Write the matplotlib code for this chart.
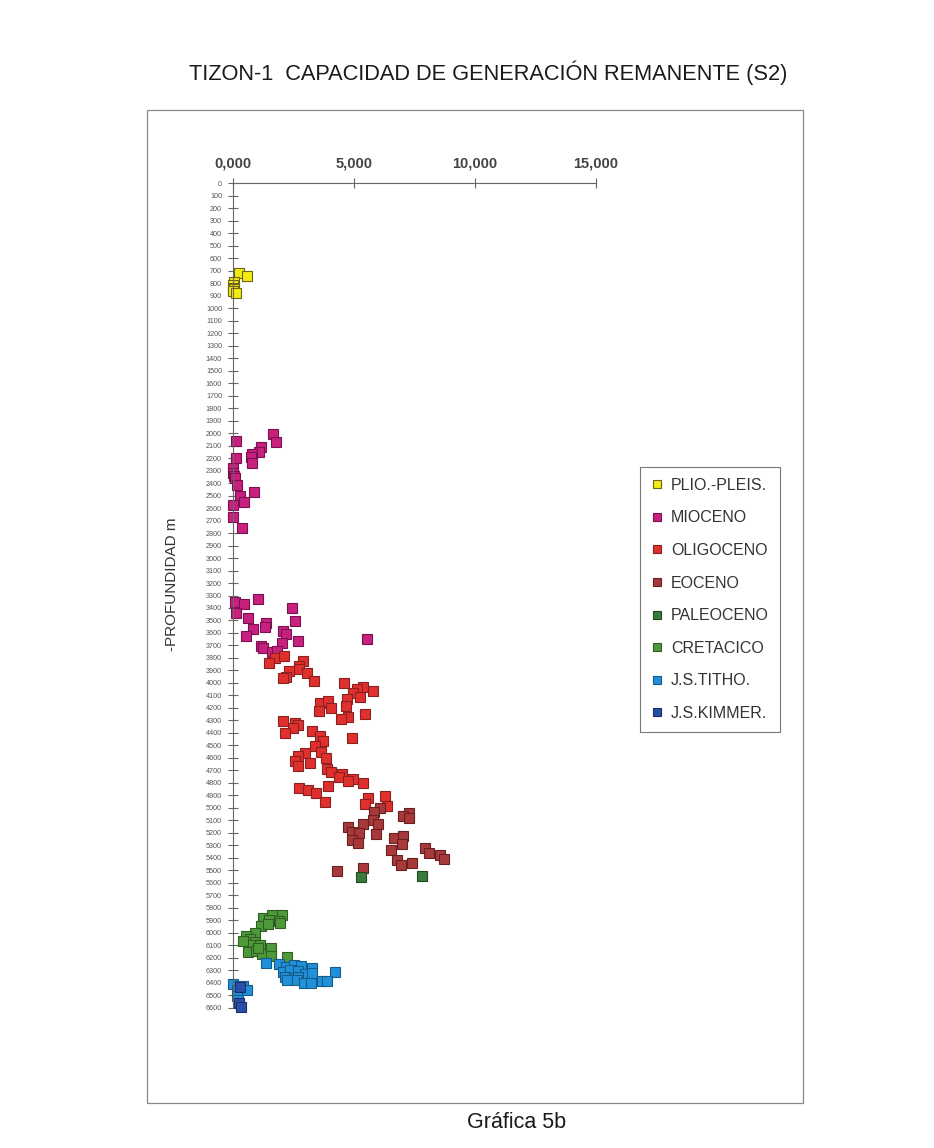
import matplotlib
matplotlib.use("Agg")
import matplotlib.pyplot as plt
from matplotlib.patches import Rectangle
from matplotlib.ticker import FuncFormatter

plt.rcParams['font.family'] = ['Liberation Sans', 'DejaVu Sans']

# S2 (x) vs depth in m (y) for each unit
plio_x = [0.27, 0.58, 0.05, 0.02, 0.00, 0.05, 0.02, 0.15]
plio_d = [715, 745, 790, 812, 835, 850, 865, 878]

mioceno_x = [1.66, 1.79, 0.14, 1.16, 1.10, 0.79, 0.78, 0.81, 0.14, 0.01, 0.00,
             0.05, 0.10, 0.17, 0.90, 0.31, 0.49, 0.03, 0.03, 0.40,
             1.07, 0.10, 0.49, 0.14, 2.44, 0.65, 0.83, 1.38, 1.34, 2.58,
             0.56, 2.07, 2.21, 2.71, 5.53, 1.18, 1.27, 2.03, 1.62, 1.82]
mioceno_d = [2010, 2069, 2063, 2109, 2149, 2170, 2190, 2242, 2197, 2282, 2322,
             2340, 2362, 2416, 2469, 2501, 2549, 2573, 2669, 2762,
             3331, 3355, 3371, 3438, 3398, 3483, 3569, 3523, 3550, 3504,
             3622, 3582, 3608, 3665, 3649, 3702, 3723, 3683, 3755, 3742]

oligo_x = [1.75, 2.12, 1.52, 2.89, 2.75, 2.75, 2.34, 3.06, 2.21, 2.10, 3.36,
           4.61, 5.37, 5.12, 5.81, 4.98, 5.26, 4.73, 3.61, 3.93, 4.06, 3.58,
           4.68, 5.46, 4.78, 4.47, 2.07, 2.58, 2.71, 2.51, 2.16, 3.27, 3.61,
           3.72, 4.94, 3.40, 3.66, 2.99, 2.71, 3.84, 2.58, 2.71, 3.20, 3.88,
           4.05, 4.50, 4.40, 4.96, 4.78, 5.40, 2.75, 3.13, 3.95, 3.43, 3.81,
           5.60, 6.29, 5.46, 6.38]
oligo_d = [3798, 3782, 3838, 3825, 3865, 3889, 3902, 3923, 3950, 3963, 3982,
           4003, 4030, 4049, 4062, 4083, 4110, 4129, 4163, 4142, 4203, 4222,
           4182, 4249, 4270, 4286, 4302, 4323, 4337, 4358, 4403, 4385, 4422,
           4462, 4438, 4502, 4550, 4564, 4583, 4604, 4623, 4663, 4644, 4689,
           4711, 4729, 4751, 4767, 4785, 4804, 4839, 4857, 4825, 4884, 4951,
           4924, 4905, 4969, 4986]

eoceno_x = [6.08, 5.84, 7.29, 7.04, 7.29, 5.78, 6.02, 5.40, 4.78, 4.92, 5.23,
            5.91, 4.92, 5.16, 6.67, 7.04, 6.98, 6.52, 7.94, 8.10, 8.56, 8.72,
            6.80, 6.95, 7.40, 4.32, 5.38]
eoceno_d = [5004, 5031, 5044, 5066, 5084, 5098, 5132, 5132, 5156, 5191, 5199,
            5210, 5258, 5279, 5239, 5226, 5292, 5338, 5324, 5364, 5378, 5412,
            5418, 5458, 5440, 5506, 5484]

paleo_x = [5.30, 7.84]
paleo_d = [5556, 5546]

creta_x = [1.27, 1.62, 2.03, 1.52, 1.93, 1.17, 1.47, 1.97, 0.93, 0.56, 0.72,
           0.45, 0.93, 0.86, 1.13, 0.65, 0.97, 1.20, 1.58, 1.58, 1.07, 2.23]
creta_d = [5885, 5858, 5858, 5898, 5904, 5946, 5933, 5920, 6005, 6026, 6050,
           6066, 6072, 6098, 6098, 6152, 6146, 6173, 6120, 6184, 6125, 6197]

titho_x = [1.38, 1.93, 2.21, 2.55, 2.81, 2.10, 2.37, 2.71, 3.27, 4.23, 2.99,
           3.27, 2.16, 2.55, 2.71, 2.26, 2.67, 2.95, 3.24, 3.68, 3.88, 0.03,
           0.24, 0.45, 0.17, 0.59, 0.17, 0.21]
titho_d = [6240, 6253, 6272, 6259, 6267, 6313, 6299, 6307, 6285, 6313, 6333,
           6325, 6357, 6365, 6352, 6379, 6379, 6400, 6400, 6387, 6384, 6411,
           6427, 6427, 6459, 6459, 6507, 6539]

kimmer_x = [0.31, 0.28, 0.35]
kimmer_d = [6437, 6560, 6592]

labels = ['PLIO.-PLEIS.', 'MIOCENO', 'OLIGOCENO', 'EOCENO', 'PALEOCENO',
          'CRETACICO', 'J.S.TITHO.', 'J.S.KIMMER.']
fills = ['#F4EA16', '#C8207E', '#E0302E', '#A8393A', '#3C7A3C',
         '#4E9A3A', '#2090DA', '#2A4EA8']
edges = ['#6B6512', '#7A1050', '#8A2020', '#6A2020', '#1E4A1E',
         '#2E5E22', '#165C8A', '#182E66']
series = [(plio_x, plio_d), (mioceno_x, mioceno_d), (oligo_x, oligo_d),
          (eoceno_x, eoceno_d), (paleo_x, paleo_d), (creta_x, creta_d),
          (titho_x, titho_d), (kimmer_x, kimmer_d)]

fig = plt.figure(figsize=(9.34, 11.48), dpi=100)
W, H = 934, 1148

# axes placed by pixel position of the original
x0, x1 = 232.5, 596.0
y0, y1 = 183.3, 1007.7
ax = fig.add_axes([x0 / W, 1 - y1 / H, (x1 - x0) / W, (y1 - y0) / H])

handles = []
for (xs, ds), lab, fc, ec in zip(series, labels, fills, edges):
    h, = ax.plot(xs, ds, linestyle='none', marker='s', markersize=7,
                 markerfacecolor=fc, markeredgecolor=ec, markeredgewidth=0.8,
                 clip_on=False, label=lab)
    handles.append(h)

ax.set_xlim(0, 15)
ax.set_ylim(6600, 0)
ax.xaxis.tick_top()
ax.set_xticks([0, 5, 10, 15])
ax.xaxis.set_major_formatter(
    FuncFormatter(lambda v, _: f'{v:.3f}'.replace('.', ',')))
ax.set_yticks(range(0, 6601, 100))
ax.set_yticklabels([str(v) for v in range(0, 6601, 100)])

for side in ['right', 'bottom']:
    ax.spines[side].set_visible(False)
for side in ['left', 'top']:
    ax.spines[side].set_color('#666666')
    ax.spines[side].set_linewidth(0.8)

ax.tick_params(axis='x', direction='inout', length=7, width=0.8,
               colors='#666666', labelcolor='#444444', labelsize=10.5, pad=6)
ax.tick_params(axis='y', direction='inout', length=7, width=0.8,
               colors='#666666', labelcolor='#555555', labelsize=5.2, pad=4)
for t in ax.get_xticklabels():
    t.set_fontweight('bold')
ax.patch.set_alpha(0)

fig.text(172 / W, 1 - 584 / H, '-PROFUNDIDAD m', rotation=90,
         ha='center', va='center', fontsize=11, color='#333333')

fig.text(488 / W, 1 - 73 / H,
         'TIZON-1  CAPACIDAD DE GENERACIÓN REMANENTE (S2)',
         ha='center', va='center', fontsize=15.7, color='#1a1a1a')
fig.text(517 / W, 1 - 1123 / H, 'Gráfica 5b', ha='center', va='center',
         fontsize=15.5, color='#1a1a1a')

# outer frame
fig.add_artist(Rectangle((147 / W, 1 - 1103 / H), (803 - 147) / W,
                         (1103 - 110) / H, transform=fig.transFigure,
                         fill=False, edgecolor='#8a8a8a', linewidth=0.9))

leg = fig.legend(handles=handles, loc='upper left',
                 bbox_to_anchor=(640 / W, 1 - 467 / H), fontsize=11.5,
                 frameon=True, fancybox=False, edgecolor='#777777',
                 framealpha=1, labelspacing=1.1, handlelength=0.8,
                 handletextpad=0.45, borderpad=0.68, markerscale=0.8,
                 borderaxespad=0)
leg.get_frame().set_linewidth(0.8)
for t in leg.get_texts():
    t.set_color('#333333')

fig.savefig('out.png', dpi=100)
